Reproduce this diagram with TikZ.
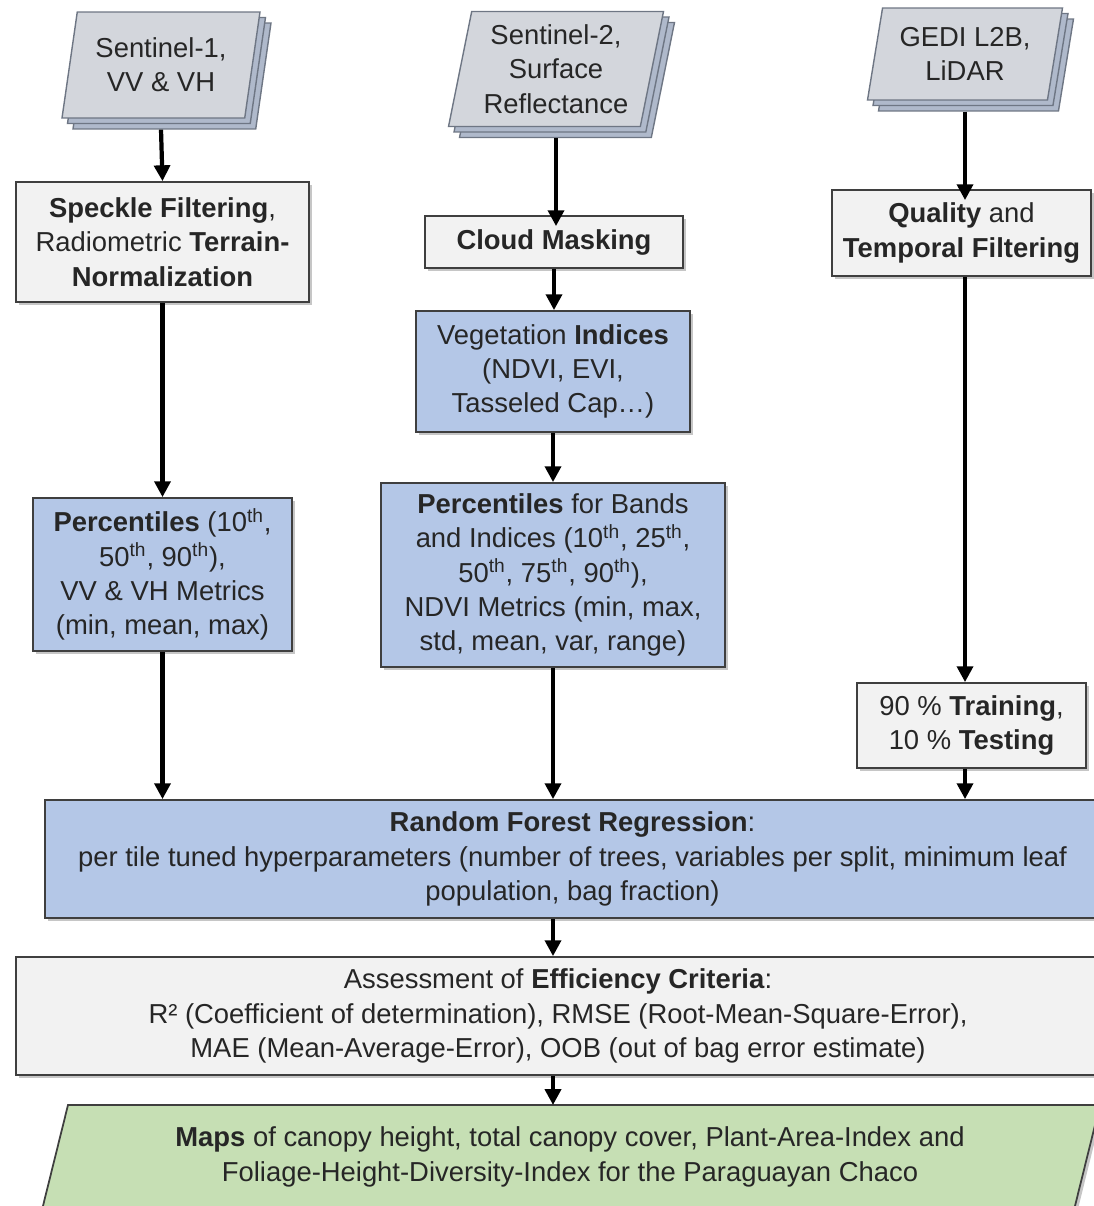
\documentclass[tikz,border=0pt]{standalone}
\usepackage{fontspec}
\setmainfont{Liberation Sans}
\usepackage{tikz}
\usetikzlibrary{arrows.meta,shapes.geometric,shadows}

\definecolor{boxgray}{HTML}{F2F2F2}
\definecolor{boxblue}{HTML}{B4C7E7}
\definecolor{boxgreen}{HTML}{C6DFB4}
\definecolor{docfront}{HTML}{D3D6DC}
\definecolor{docback}{HTML}{AFB9CB}
\definecolor{docline}{HTML}{6E7684}
\definecolor{edgegray}{HTML}{3F3F3F}

\begin{document}
\begin{tikzpicture}[x=0.02cm,y=-0.02cm,
  every node/.style={font=\fontsize{15.6}{19.5}\selectfont, text=black!85, align=center},
  procbox/.style={rectangle, draw=edgegray, line width=1pt, fill=boxgray,
    drop shadow={shadow xshift=0.06cm, shadow yshift=-0.06cm, opacity=0.45}},
  metricbox/.style={procbox, fill=boxblue},
  datastack/.style={trapezium, trapezium left angle=77, trapezium right angle=103,
    trapezium stretches body, draw=docline, fill=docfront, line width=0.8pt,
    double copy shadow={shadow xshift=0.11cm, shadow yshift=-0.11cm, fill=docback, draw=docline}},
  mapshape/.style={draw=edgegray, line width=1pt, fill=boxgreen,
    drop shadow={shadow xshift=0.06cm, shadow yshift=-0.06cm, opacity=0.45}},
  flow/.style={-{Triangle[length=9pt,width=9pt]}, line width=2.4pt}]
\path[use as bounding box, clip] (0,0) rectangle (1094,1206);

\node[datastack, minimum width=3.96cm, minimum height=2.12cm] (s1) at (161,65) {Sentinel-1,\\ VV \& VH};
\node[datastack, minimum width=4.3cm, minimum height=2.3cm] (s2) at (556,69) {Sentinel-2,\\ Surface\\ Reflectance};
\node[datastack, minimum width=3.9cm, minimum height=1.84cm] (gedi) at (965,54) {GEDI L2B,\\ LiDAR};

\node[procbox, minimum width=5.86cm, minimum height=2.4cm] (speckle) at (162.5,242)
  {\textbf{Speckle Filtering},\\ Radiometric \textbf{Terrain-}\\ \textbf{Normalization}};
\node[procbox, minimum width=5.16cm, minimum height=1.04cm] (cloud) at (554,242) {\textbf{Cloud Masking}};
\node[procbox, minimum width=5.18cm, minimum height=1.72cm] (quality) at (961.5,233)
  {\textbf{Quality} and\\ \textbf{Temporal Filtering}};
\node[metricbox, minimum width=5.48cm, minimum height=2.42cm] (veg) at (553,371.5)
  {Vegetation \textbf{Indices}\\ (NDVI, EVI,\\ Tasseled Cap\ldots)};
\node[metricbox, minimum width=5.18cm, minimum height=3.06cm] (percL) at (162.5,574.5)
  {\textbf{Percentiles} (10\textsuperscript{th},\\ 50\textsuperscript{th}, 90\textsuperscript{th}),\\ VV \& VH Metrics\\ (min, mean, max)};
\node[metricbox, minimum width=6.88cm, minimum height=3.68cm] (percM) at (553,575)
  {\textbf{Percentiles} for Bands\\ and Indices (10\textsuperscript{th}, 25\textsuperscript{th},\\ 50\textsuperscript{th}, 75\textsuperscript{th}, 90\textsuperscript{th}),\\ NDVI Metrics (min, max,\\ std, mean, var, range)};
\node[procbox, minimum width=4.58cm, minimum height=1.7cm] (train) at (971.5,725.5)
  {90 \% \textbf{Training},\\ 10 \% \textbf{Testing}};
\node[metricbox, minimum width=21.1cm, minimum height=2.36cm] (forest) at (572.5,859)
  {\textbf{Random Forest Regression}:\\ per tile tuned hyperparameters (number of trees, variables per split, minimum leaf\\ population, bag fraction)};
\node[procbox, minimum width=21.68cm, minimum height=2.36cm] (assess) at (558,1016)
  {Assessment of \textbf{Efficiency Criteria}:\\ R² (Coefficient of determination), RMSE (Root-Mean-Square-Error),\\ MAE (Mean-Average-Error), OOB (out of bag error estimate)};

% output maps
\draw[mapshape] (68,1105) -- (1100,1105) -- (1072,1218) -- (40,1218) -- cycle;
\coordinate (mapstop) at (553,1105);
\node (maps) at (570,1157)
  {\textbf{Maps} of canopy height, total canopy cover, Plant-Area-Index and\\ Foliage-Height-Diversity-Index for the Paraguayan Chaco};

\draw[flow] ([yshift=-0.22cm]s1.south) -- (speckle.north);
\draw[flow] (speckle.south) -- (percL.north);
\draw[flow] (percL.south) -- (percL.south |- forest.north);
\draw[flow] ([yshift=-0.22cm]s2.south) -- ([yshift=-0.22cm]s2.south |- cloud.north);
\draw[flow] (cloud.south) -- (cloud.south |- veg.north);
\draw[flow] (veg.south) -- (percM.north);
\draw[flow] (percM.south) -- (percM.south |- forest.north);
\draw[flow] ([yshift=-0.22cm]gedi.south) -- ([yshift=-0.22cm]gedi.south |- quality.north);
\draw[flow] (quality.south -| gedi.south) -- (train.north -| gedi.south);
\draw[flow] (train.south -| gedi.south) -- (forest.north -| gedi.south);
\draw[flow] (forest.south -| percM.south) -- (assess.north -| percM.south);
\draw[flow] (assess.south -| percM.south) -- (mapstop);
\end{tikzpicture}
\end{document}
